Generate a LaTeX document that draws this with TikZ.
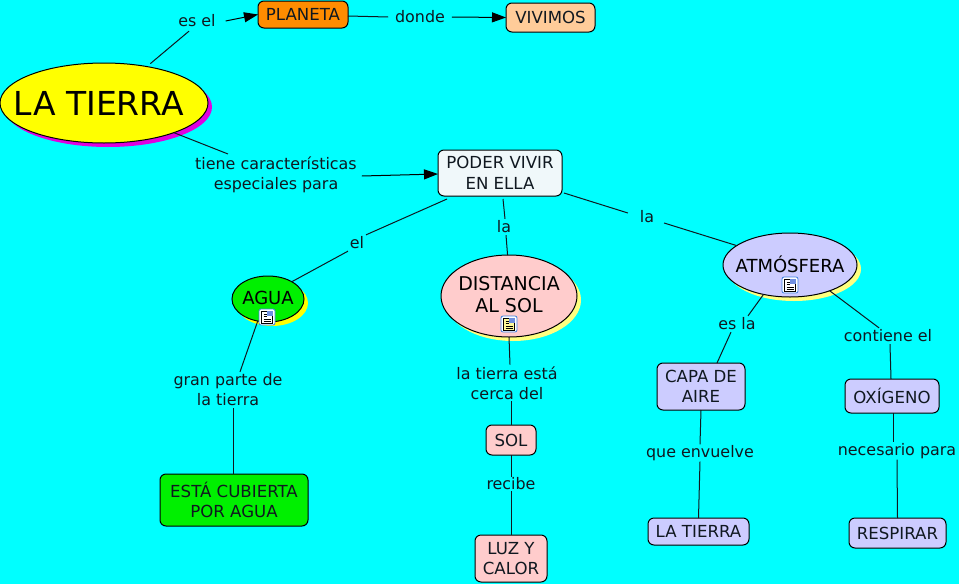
\documentclass[tikz,border=0pt]{standalone}
\usepackage{fontspec}
\setmainfont{DejaVu Sans}
\usetikzlibrary{shapes.geometric,arrows.meta,shadows}
\definecolor{bgc}{HTML}{00FFFF}
\definecolor{peach}{HTML}{FFCC99}
\definecolor{orangeb}{HTML}{FF8C00}
\definecolor{lav}{HTML}{CCCCFF}
\definecolor{pinkb}{HTML}{FFCCCC}
\definecolor{paleb}{HTML}{F0F8FA}
\definecolor{greenb}{HTML}{00F000}
\definecolor{paley}{HTML}{FFFF80}
\definecolor{ryellow}{HTML}{FFFF00}
\definecolor{rmag}{HTML}{E000E0}
\definecolor{ink}{HTML}{101820}
\definecolor{iconb}{HTML}{4080E0}
\definecolor{iconp}{HTML}{7090E0}
\newcommand{\ztext}[2]{\raisebox{#1}{\makebox[0pt]{\smash{\begin{tabular}[c]{@{}c@{}}#2\end{tabular}}}}}
\tikzset{
  x=1pt,y=-1pt,
  lab/.style={inner xsep=2pt,inner ysep=1pt,outer sep=0pt,align=center,text=ink,font=\fontsize{15.9}{20}\selectfont},
  conc/.style={draw=black,line width=1pt,rounded corners=6pt,inner sep=0pt,outer sep=0pt,align=center,text=ink,font=\fontsize{16.6}{20.5}\selectfont},
  elli/.style={ellipse,draw=black,line width=1pt,inner sep=0pt,outer sep=0pt,text=black,font=\fontsize{18}{22}\selectfont},
  shad/.style={general shadow={fill=#1,shadow xshift=4pt,shadow yshift=-4pt}},
  conn/.style={draw=ink,line width=1pt},
  arr/.style={draw=black,line width=1pt,-{Triangle[length=14pt,width=10pt]}},
  pics/docicon/.style={code={
    \draw[draw=iconb,fill=white,line width=.8pt,rounded corners=2pt] (-8,-8) rectangle (8,8);
    \draw[draw=black,fill=#1,line width=.8pt] (-5.5,-6) rectangle (5.5,6);
    \fill[iconp] (0,-6) rectangle (5.5,-1);
    \draw[line width=.7pt] (-3.5,-3) -- (-.5,-3) (-3.5,-.5) -- (-.5,-.5) (-3.5,2) -- (3.5,2) (-3.5,4) -- (3.5,4);
  }}
}
\begin{document}
\begin{tikzpicture}
\useasboundingbox[fill=bgc] (0,0) rectangle (959,584);
% concepts
\node[elli,fill=ryellow,shad=rmag,minimum width=208pt,minimum height=80pt,font=\fontsize{33}{36}\selectfont] (tierra) at (104,103) {\hspace*{-10pt}\ztext{-24pt}{LA TIERRA}};
\node[conc,fill=orangeb,minimum width=90pt,minimum height=27pt] (planeta) at (303,14.5) {PLANETA};
\node[conc,fill=peach,minimum width=89pt,minimum height=29pt] (vivimos) at (550.5,17.5) {VIVIMOS};
\node[conc,fill=paleb,minimum width=124pt,minimum height=46pt] (poder) at (500,173) {PODER VIVIR\\EN ELLA};
\node[elli,fill=greenb,shad=ryellow,minimum width=72pt,minimum height=46pt] (agua) at (268,299) {\ztext{-10pt}{AGUA}};
\node[elli,fill=pinkb,shad=paley,minimum width=136pt,minimum height=82pt,font=\fontsize{19}{22}\selectfont] (dist) at (509,296) {\ztext{-10pt}{DISTANCIA\\AL SOL}};
\node[elli,fill=lav,shad=paley,minimum width=134pt,minimum height=64pt] (atm) at (790,265) {\ztext{-14pt}{ATMÓSFERA}};
\node[conc,fill=greenb,minimum width=148pt,minimum height=52pt] (cubierta) at (234,500) {ESTÁ CUBIERTA\\POR AGUA};
\node[conc,fill=pinkb,minimum width=50pt,minimum height=30pt] (sol) at (511,440) {SOL};
\node[conc,fill=pinkb,minimum width=72pt,minimum height=47pt] (luz) at (511,558.5) {LUZ Y\\CALOR};
\node[conc,fill=lav,minimum width=88pt,minimum height=47pt] (capa) at (701,386.5) {CAPA DE\\AIRE};
\node[conc,fill=lav,minimum width=101pt,minimum height=27pt] (ltierra) at (698.5,531.5) {LA TIERRA};
\node[conc,fill=lav,minimum width=94pt,minimum height=34pt] (oxi) at (892,396) {OXÍGENO};
\node[conc,fill=lav,minimum width=97pt,minimum height=30pt] (resp) at (897.5,533) {RESPIRAR};
% labels
\node[lab] (esel) at (197,21) {es el};
\node[lab] (donde) at (420,17) {donde};
\node[lab] (tiene) at (276,175) {tiene características\\especiales para};
\node[lab] (el) at (357,243) {el};
\node[lab] (la1) at (504,227) {la};
\node[lab] (la2) at (647,217) {la};
\node[lab] (esla) at (737,324) {es la};
\node[lab] (contiene) at (888,336) {contiene el};
\node[lab] (gran) at (228,390) {gran parte de\\la tierra};
\node[lab] (cerca) at (507,383) {la tierra está\\cerca del};
\node[lab] (recibe) at (511,484) {recibe};
\node[lab] (envuelve) at (700,453) {que envuelve};
\node[lab] (necesario) at (897,451) {necesario para};
% connectors
\draw[conn] ([xshift=3pt,yshift=3pt]tierra.40) -- ([xshift=-8pt,yshift=-3pt]esel.south);
\draw[arr] ([xshift=8pt]esel.east) -- (planeta.west);
\draw[conn] ([yshift=-1.5pt]planeta.east) -- ([xshift=-5pt]donde.west);
\draw[arr] ([xshift=5pt]donde.east) -- (vivimos.west);
\draw[conn] (tierra.-23) -- ([xshift=-48pt,yshift=2pt]tiene.north);
\draw[arr] ([yshift=-1pt,xshift=3pt]tiene.east) -- ([yshift=-1pt]poder.west);
\draw[conn] ([xshift=-53pt,yshift=-3pt]poder.south) -- ([xshift=9pt,yshift=1pt]el.north);
\draw[conn] ([xshift=-9pt,yshift=-1pt]el.south) -- (agua.36);
\draw[conn] ([xshift=3pt,yshift=-3pt]poder.south) -- ([xshift=1pt,yshift=1pt]la1.north);
\draw[conn] ([xshift=2pt,yshift=-1pt]la1.south) -- (dist.92);
\draw[conn] ([xshift=2pt,yshift=-20pt]poder.east) -- ([xshift=-10pt,yshift=4pt]la2.west);
\draw[conn] ([xshift=8pt,yshift=-6pt]la2.east) -- (atm.160);
\draw[conn] (atm.-132) -- ([xshift=11pt,yshift=1pt]esla.north);
\draw[conn] ([xshift=-6pt,yshift=-1pt]esla.south) -- ([xshift=16pt]capa.north);
\draw[conn] (atm.-33) -- ([xshift=-9pt,yshift=1pt]contiene.north);
\draw[conn] ([xshift=2pt,yshift=-1pt]contiene.south) -- ([xshift=-1pt]oxi.north);
\draw[conn] (agua.-115) -- ([xshift=12pt,yshift=1pt]gran.north);
\draw[conn] ([xshift=5pt,yshift=-1pt]gran.south) -- ([xshift=-1pt]cubierta.north);
\draw[conn] (dist.-90) -- ([xshift=3pt,yshift=1pt]cerca.north);
\draw[conn] ([xshift=4pt,yshift=-1pt]cerca.south) -- (sol.north);
\draw[conn] (sol.south) -- (recibe.north);
\draw[conn] (recibe.south) -- (luz.north);
\draw[conn] (capa.south) -- (envuelve.north);
\draw[conn] (envuelve.south) -- (ltierra.north);
\draw[conn] ([xshift=1pt]oxi.south) -- ([xshift=-4pt]necesario.north);
\draw[conn] (necesario.south) -- (resp.north);
% document icons
\pic at (267,317) {docicon=white};
\pic at (509,324) {docicon={yellow!40}};
\pic at (790,285) {docicon=white};
\end{tikzpicture}
\end{document}
